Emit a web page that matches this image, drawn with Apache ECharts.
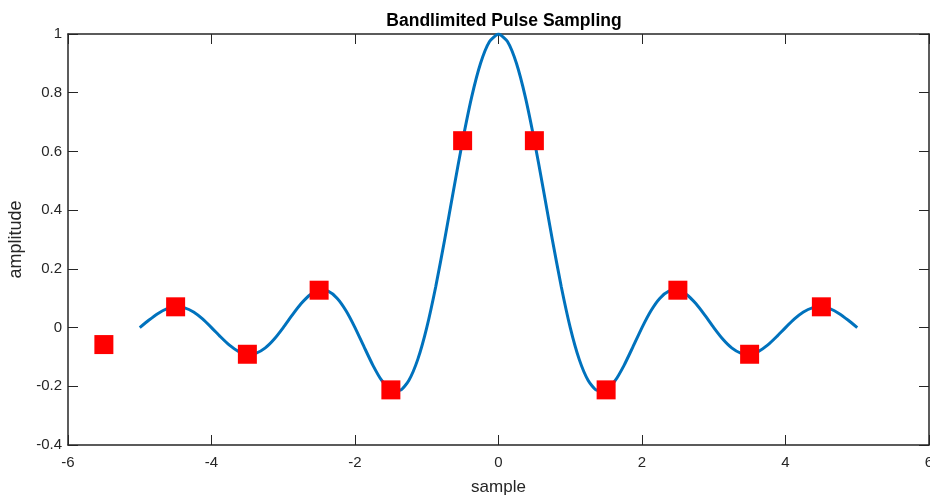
<!DOCTYPE html>
<html>
<head>
<meta charset="utf-8">
<script src="https://cdn.jsdelivr.net/npm/echarts@6/dist/echarts.min.js"></script>
<style>
  html, body { margin: 0; padding: 0; background: #fff; }
  #chart { width: 930px; height: 497px; }
</style>
</head>
<body>
<div id="chart"></div>
<script>
// Continuous pulse, sampled densely on [-5, 5]
const pulseX = [
  -5, -4.875, -4.75, -4.625, -4.5, -4.375, -4.25, -4.125,
  -4, -3.875, -3.75, -3.625, -3.5, -3.375, -3.25, -3.125,
  -3, -2.875, -2.75, -2.625, -2.5, -2.375, -2.25, -2.125,
  -2, -1.875, -1.75, -1.625, -1.5, -1.375, -1.25, -1.125,
  -1, -0.875, -0.75, -0.625, -0.5, -0.375, -0.25, -0.125,
  0,
  0.125, 0.25, 0.375, 0.5, 0.625, 0.75, 0.875, 1,
  1.125, 1.25, 1.375, 1.5, 1.625, 1.75, 1.875, 2,
  2.125, 2.25, 2.375, 2.5, 2.625, 2.75, 2.875, 3,
  3.125, 3.25, 3.375, 3.5, 3.625, 3.75, 3.875, 4,
  4.125, 4.25, 4.375, 4.5, 4.625, 4.75, 4.875, 5
];
const pulseY = [
  0, 0.0250, 0.0474, 0.0636, 0.0707, 0.0672, 0.0530, 0.0295,
  0, -0.0314, -0.0600, -0.0811, -0.0909, -0.0871, -0.0693, -0.0390,
  0, 0.0424, 0.0818, 0.1120, 0.1273, 0.1238, 0.1000, 0.0573,
  0, -0.0650, -0.1286, -0.1810, -0.2122, -0.2139, -0.1801, -0.1083,
  0, 0.1392, 0.3001, 0.4705, 0.6366, 0.7842, 0.9003, 0.9745,
  1,
  0.9745, 0.9003, 0.7842, 0.6366, 0.4705, 0.3001, 0.1392, 0,
  -0.1083, -0.1801, -0.2139, -0.2122, -0.1810, -0.1286, -0.0650, 0,
  0.0573, 0.1000, 0.1238, 0.1273, 0.1120, 0.0818, 0.0424, 0,
  -0.0390, -0.0693, -0.0871, -0.0909, -0.0811, -0.0600, -0.0314, 0,
  0.0295, 0.0530, 0.0672, 0.0707, 0.0636, 0.0474, 0.0250, 0
];

// Samples taken at half-integer positions
const sampleX = [-5.5, -4.5, -3.5, -2.5, -1.5, -0.5, 0.5, 1.5, 2.5, 3.5, 4.5];
const sampleY = [-0.0579, 0.0707, -0.0909, 0.1273, -0.2122, 0.6366, 0.6366, -0.2122, 0.1273, -0.0909, 0.0707];

const xTicks = [-6, -4, -2, 0, 2, 4, 6];
const yTicks = [-0.4, -0.2, 0, 0.2, 0.4, 0.6, 0.8, 1];

const zip = (xs, ys) => xs.map((x, i) => [x, ys[i]]);

const axisColor = '#262626';
const font = 'Liberation Sans, Arial, Helvetica, sans-serif';

const chart = echarts.init(document.getElementById('chart'), null, { renderer: 'canvas' });

const tickStyle = { show: true, inside: true, length: 10, lineStyle: { color: axisColor, width: 1 } };
const lineStyle = { show: true, onZero: false, lineStyle: { color: axisColor, width: 1.5 } };

const baseX = {
  type: 'value',
  min: xTicks[0],
  max: xTicks[xTicks.length - 1],
  interval: 2,
  splitLine: { show: false },
  axisLine: lineStyle,
  axisTick: tickStyle
};
const baseY = {
  type: 'value',
  min: yTicks[0],
  max: yTicks[yTicks.length - 1],
  interval: 0.2,
  splitLine: { show: false },
  axisLine: lineStyle,
  axisTick: tickStyle
};

chart.setOption({
  animation: false,
  backgroundColor: '#ffffff',
  title: {
    text: 'Bandlimited Pulse Sampling',
    left: 499,
    textAlign: 'center',
    top: 7,
    textStyle: { fontFamily: font, fontSize: 17.5, fontWeight: 'bold', color: '#000' }
  },
  grid: { left: 68, right: 1, top: 34, bottom: 52, containLabel: false, outerBoundsMode: 'none' },
  xAxis: [
    Object.assign({}, baseX, {
      position: 'bottom',
      name: 'sample',
      nameLocation: 'middle',
      nameGap: 34,
      nameTextStyle: { fontFamily: font, fontSize: 17, color: axisColor },
      axisLabel: {
        show: true, margin: 10, fontFamily: font, fontSize: 15, color: axisColor,
        formatter: v => String(v)
      }
    }),
    Object.assign({}, baseX, { position: 'top', axisLabel: { show: false } })
  ],
  yAxis: [
    Object.assign({}, baseY, {
      position: 'left',
      name: 'amplitude',
      nameLocation: 'middle',
      nameGap: 42,
      nameTextStyle: { fontFamily: font, fontSize: 18, color: axisColor },
      axisLabel: {
        show: true, margin: 6, fontFamily: font, fontSize: 15, color: axisColor,
        formatter: v => String(Math.round(v * 10) / 10)
      }
    }),
    Object.assign({}, baseY, { position: 'right', axisLabel: { show: false } })
  ],
  series: [
    {
      type: 'line',
      data: zip(pulseX, pulseY),
      xAxisIndex: 0,
      yAxisIndex: 0,
      showSymbol: false,
      smooth: 0.2,
      lineStyle: { color: '#0072BD', width: 3 },
      z: 2
    },
    {
      type: 'scatter',
      data: zip(sampleX, sampleY),
      xAxisIndex: 0,
      yAxisIndex: 0,
      symbol: 'rect',
      symbolSize: 19,
      itemStyle: { color: '#ff0000', opacity: 1 },
      z: 3
    }
  ]
});
</script>
</body>
</html>
